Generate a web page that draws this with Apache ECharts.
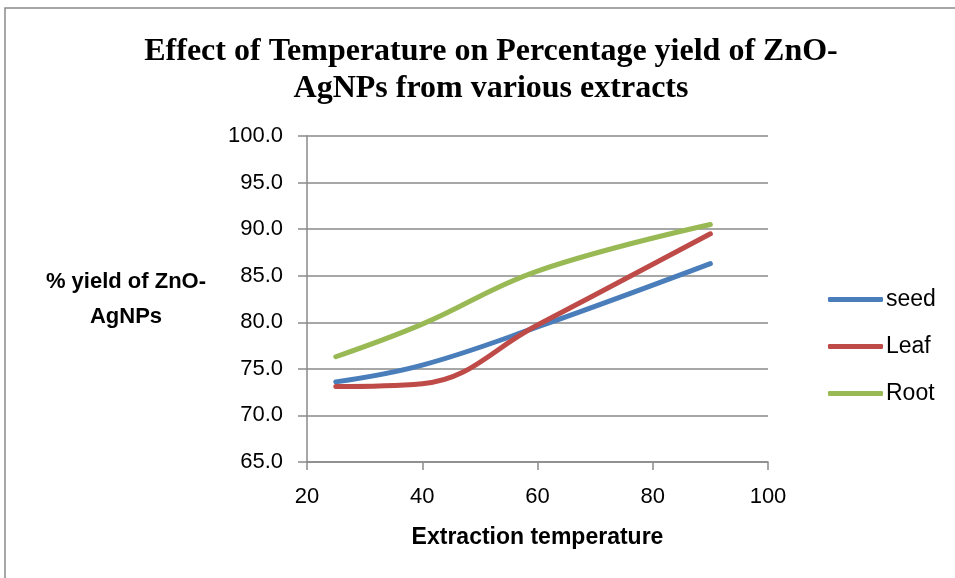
<!DOCTYPE html>
<html>
<head>
<meta charset="utf-8">
<script src="https://cdn.jsdelivr.net/npm/echarts@6/dist/echarts.min.js"></script>
<style>
  html, body { margin: 0; padding: 0; background: #fff; }
  #chart { width: 955px; height: 578px; }
</style>
</head>
<body>
<div id="chart"></div>
<script>
// temperatures (x) and % yield per extract
const temps = [25, 40, 60, 90];
const seed = [73.6, 75.4, 79.5, 86.3];
const leaf = [73.1, 73.4, 79.7, 89.5];
const root = [76.3, 79.8, 85.5, 90.5];

const seriesNames = ['seed', 'Leaf', 'Root'];
const seriesColors = ['#4a7ebb', '#be4b48', '#98b954'];

const chart = echarts.init(document.getElementById('chart'), null, { renderer: 'canvas' });

const pair = (ys) => temps.map((t, i) => [t, ys[i]]);
const sans = '"Liberation Sans", Arial, sans-serif';

const option = {
  animation: false,
  backgroundColor: '#fff',
  title: {
    text: 'Effect of Temperature on Percentage yield of ZnO-\nAgNPs from various extracts',
    left: 486,
    top: 28,
    textAlign: 'center',
    textStyle: {
      fontFamily: '"Liberation Serif", "Times New Roman", serif',
      fontWeight: 'bold',
      fontSize: 32,
      lineHeight: 37,
      color: '#000'
    }
  },
  graphic: [{
    type: 'rect',
    shape: { x: 5, y: 8, width: 960, height: 580 },
    style: { fill: 'none', stroke: '#8a8a8a', lineWidth: 1.5 },
    silent: true
  }],
  legend: {
    orient: 'vertical',
    left: 828,
    top: 288,
    padding: 0,
    itemWidth: 55,
    itemHeight: 5,
    itemGap: 24,
    icon: 'roundRect',
    data: seriesNames,
    textStyle: { fontFamily: sans, fontSize: 23, color: '#000', padding: [0, 0, 0, -2] }
  },
  grid: { left: 307, right: 187, top: 136, bottom: 116, containLabel: false },
  xAxis: {
    type: 'value',
    min: 20,
    max: 100,
    interval: 20,
    name: 'Extraction temperature',
    nameLocation: 'middle',
    nameGap: 64,
    nameTextStyle: { fontFamily: sans, fontWeight: 'bold', fontSize: 23, color: '#000', verticalAlign: 'top' },
    axisLine: { show: true, lineStyle: { color: '#8a8a8a', width: 1.5 } },
    axisTick: { show: true, inside: false, length: 8, lineStyle: { color: '#8a8a8a', width: 1.5 } },
    axisLabel: { margin: 24, fontFamily: sans, fontSize: 22, color: '#000' },
    splitLine: { show: false }
  },
  yAxis: {
    type: 'value',
    min: 65,
    max: 100,
    interval: 5,
    name: '% yield of ZnO-\nAgNPs',
    nameLocation: 'middle',
    nameRotate: 0,
    nameGap: 181,
    nameTextStyle: { fontFamily: sans, fontWeight: 'bold', fontSize: 22, color: '#000', align: 'center', lineHeight: 35, padding: [11, 0, 0, 0] },
    axisLine: { show: true, lineStyle: { color: '#8a8a8a', width: 1.5 } },
    axisTick: { show: true, length: 9, lineStyle: { color: '#8a8a8a', width: 1.5 } },
    axisLabel: { margin: 24, fontFamily: sans, fontSize: 22, color: '#000', formatter: (v) => v.toFixed(1) },
    splitLine: { show: true, lineStyle: { color: '#8a8a8a', width: 1.5 } }
  },
  series: [seed, leaf, root].map((ys, i) => ({
    name: seriesNames[i],
    type: 'line',
    data: pair(ys),
    smooth: 0.4,
    symbol: 'none',
    color: seriesColors[i],
    lineStyle: { width: 5, color: seriesColors[i], cap: 'round' }
  }))
};

chart.setOption(option);
</script>
</body>
</html>
